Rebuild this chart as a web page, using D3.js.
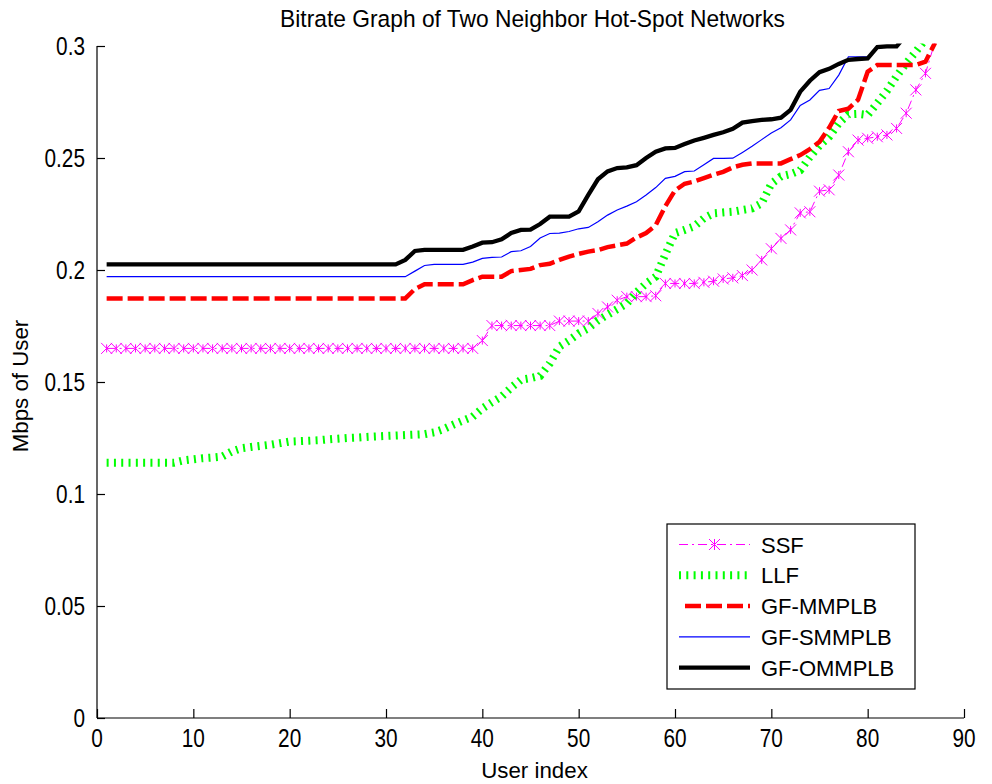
<!DOCTYPE html>
<html>
<head>
<meta charset="utf-8">
<script src="https://cdn.jsdelivr.net/npm/d3@7"></script>
<style>
  html, body { margin: 0; padding: 0; background: #fff; }
  svg { display: block; }
</style>
</head>
<body>
<svg id="chart" width="992" height="784"></svg>
<script>
// Bitrate per user (Mbps), users sorted by bitrate; user index starts at 1.
const ssf = [
  0.165, 0.165, 0.165, 0.165, 0.165, 0.165, 0.165, 0.165, 0.165, 0.165,
  0.165, 0.165, 0.165, 0.165, 0.165, 0.165, 0.165, 0.165, 0.165, 0.165,
  0.165, 0.165, 0.165, 0.165, 0.165, 0.165, 0.165, 0.165, 0.165, 0.165,
  0.165, 0.165, 0.165, 0.165, 0.165, 0.165, 0.165, 0.165, 0.165, 0.1685,
  0.1752, 0.1752, 0.1752, 0.1752, 0.1752, 0.1752, 0.1752, 0.1772, 0.1772, 0.1772,
  0.1772, 0.1806, 0.1835, 0.1865, 0.1881, 0.1881, 0.1881, 0.1885, 0.194, 0.194,
  0.194, 0.194, 0.1945, 0.195, 0.196, 0.1965, 0.1975, 0.2, 0.2045, 0.2095,
  0.2141, 0.2179, 0.2255, 0.226, 0.2352, 0.2358, 0.2424, 0.2528, 0.258, 0.2588,
  0.2595, 0.2603, 0.2632, 0.27, 0.2804, 0.2878, 0.302
];
const llf = [
  0.114, 0.114, 0.114, 0.114, 0.114, 0.114, 0.114, 0.114, 0.115, 0.1155,
  0.116, 0.1163, 0.1167, 0.119, 0.1204, 0.121, 0.1215, 0.122, 0.1227, 0.1234,
  0.1236, 0.1238, 0.124, 0.1244, 0.1247, 0.125, 0.1252, 0.1255, 0.1257, 0.1259,
  0.1261, 0.1263, 0.1265, 0.1267, 0.1275, 0.129, 0.131, 0.1328, 0.1345, 0.1382,
  0.141, 0.1435, 0.1475, 0.151, 0.1517, 0.1527, 0.1583, 0.1658, 0.1685, 0.1717,
  0.174, 0.1775, 0.18, 0.1825, 0.1851, 0.19, 0.194, 0.197, 0.207, 0.2165,
  0.2179, 0.2195, 0.2231, 0.2253, 0.2257, 0.226, 0.2268, 0.2275, 0.2298, 0.2385,
  0.2418, 0.2428, 0.2445, 0.2505, 0.2555, 0.2595, 0.2655, 0.2695, 0.2697, 0.2692,
  0.2745, 0.28, 0.2865, 0.2923, 0.2975, 0.303
];
const gfMmplb = [
  0.1873, 0.1873, 0.1873, 0.1873, 0.1873, 0.1873, 0.1873, 0.1873, 0.1873, 0.1873,
  0.1873, 0.1873, 0.1873, 0.1873, 0.1873, 0.1873, 0.1873, 0.1873, 0.1873, 0.1873,
  0.1873, 0.1873, 0.1873, 0.1873, 0.1873, 0.1873, 0.1873, 0.1873, 0.1873, 0.1873,
  0.1873, 0.1873, 0.1915, 0.1936, 0.1936, 0.1936, 0.1936, 0.1936, 0.1955, 0.197,
  0.197, 0.197, 0.1995, 0.2, 0.2005, 0.2022, 0.2028, 0.2045, 0.206, 0.2072,
  0.2082, 0.2089, 0.2102, 0.211, 0.2118, 0.2145, 0.2165, 0.22, 0.2285, 0.2355,
  0.2385, 0.2395, 0.241, 0.2425, 0.2438, 0.2458, 0.247, 0.2476, 0.2476, 0.2476,
  0.2476, 0.2495, 0.2513, 0.254, 0.2572, 0.2635, 0.271, 0.272, 0.276, 0.2885,
  0.2915, 0.2915, 0.2915, 0.2915, 0.2915, 0.293, 0.3015
];
const gfSmmplb = [
  0.197, 0.197, 0.197, 0.197, 0.197, 0.197, 0.197, 0.197, 0.197, 0.197,
  0.197, 0.197, 0.197, 0.197, 0.197, 0.197, 0.197, 0.197, 0.197, 0.197,
  0.197, 0.197, 0.197, 0.197, 0.197, 0.197, 0.197, 0.197, 0.197, 0.197,
  0.197, 0.197, 0.1995, 0.202, 0.2025, 0.2025, 0.2025, 0.2025, 0.2035, 0.2052,
  0.2056, 0.2058, 0.2082, 0.2086, 0.2105, 0.2143, 0.2163, 0.2165, 0.2172, 0.2184,
  0.219, 0.2215, 0.2245, 0.2268, 0.2285, 0.2305, 0.2335, 0.2368, 0.2409, 0.2418,
  0.2439, 0.2442, 0.247, 0.2498, 0.2498, 0.2499, 0.2525, 0.2552, 0.2582, 0.2612,
  0.2635, 0.267, 0.2735, 0.2759, 0.2802, 0.281, 0.287, 0.2952, 0.2952, 0.2952
];
const gfOmmplb = [
  0.2025, 0.2025, 0.2025, 0.2025, 0.2025, 0.2025, 0.2025, 0.2025, 0.2025, 0.2025,
  0.2025, 0.2025, 0.2025, 0.2025, 0.2025, 0.2025, 0.2025, 0.2025, 0.2025, 0.2025,
  0.2025, 0.2025, 0.2025, 0.2025, 0.2025, 0.2025, 0.2025, 0.2025, 0.2025, 0.2025,
  0.2025, 0.2045, 0.2085, 0.209, 0.209, 0.209, 0.209, 0.209, 0.2105, 0.2122,
  0.2124, 0.2137, 0.2165, 0.2179, 0.218, 0.2205, 0.2238, 0.2238, 0.2238, 0.2262,
  0.2335, 0.2405, 0.244, 0.2455, 0.2458, 0.2468, 0.25, 0.2528, 0.2543, 0.2545,
  0.2562, 0.2578, 0.259, 0.2603, 0.2615, 0.263, 0.2658, 0.2665, 0.267, 0.2673,
  0.268, 0.2715, 0.2796, 0.2845, 0.2883, 0.2898, 0.292, 0.2938, 0.2942, 0.2945,
  0.2995, 0.2998, 0.2998, 0.305
];

const seriesNames = ["SSF", "LLF", "GF-MMPLB", "GF-SMMPLB", "GF-OMMPLB"];
const xTicks = [0, 10, 20, 30, 40, 50, 60, 70, 80, 90];
const yTicks = [0, 0.05, 0.1, 0.15, 0.2, 0.25, 0.3];
const yTickLabels = ["0", "0.05", "0.1", "0.15", "0.2", "0.25", "0.3"];
const titleText = "Bitrate Graph of Two Neighbor Hot-Spot Networks";
const xLabelText = "User index";
const yLabelText = "Mbps of User";

// Layout
const W = 992, H = 784;
const plot = { left: 97, right: 964, top: 46, bottom: 718 };
const FONT = "'Liberation Sans', Arial, Helvetica, sans-serif";

const svg = d3.select("#chart");
const x = d3.scaleLinear().domain([0, 90]).range([plot.left, plot.right]);
const y = d3.scaleLinear().domain([0, 0.3]).range([plot.bottom, plot.top]);

svg.append("rect").attr("width", W).attr("height", H).attr("fill", "#fff");

// Clip region for data lines
svg.append("defs").append("clipPath").attr("id", "plotClip")
  .append("rect")
  .attr("x", plot.left).attr("y", plot.top - 2.5)
  .attr("width", plot.right - plot.left + 6).attr("height", plot.bottom - plot.top + 2.5);

// Text drawn with an optional horizontal squeeze (narrow axis lettering)
function axisText(parent, px, py, str, size, anchor, squeeze, rotate) {
  const g = parent.append("g")
    .attr("transform", `translate(${px},${py})` + (rotate ? ` rotate(${rotate})` : ""));
  g.append("text")
    .attr("transform", `scale(${squeeze},1)`)
    .attr("text-anchor", anchor)
    .attr("font-family", FONT)
    .attr("font-size", size)
    .attr("fill", "#000")
    .text(str);
  return g;
}

// Axes
const xAxis = d3.axisBottom(x).tickValues(xTicks).tickSize(-9).tickFormat("");
const yAxis = d3.axisLeft(y).tickValues(yTicks).tickSize(-8).tickFormat("");

const gx = svg.append("g").attr("transform", `translate(0,${plot.bottom})`).call(xAxis);
const gy = svg.append("g").attr("transform", `translate(${plot.left},0)`).call(yAxis);
[gx, gy].forEach(g => {
  g.select(".domain").attr("stroke", "#000").attr("stroke-width", 1.2);
  g.selectAll(".tick line").attr("stroke", "#000").attr("stroke-width", 1.2);
});
gy.select(".domain").attr("d", `M0,${plot.bottom}V${plot.top}`);
gx.select(".domain").attr("d", `M${plot.left},0H${plot.right}`);

// Tick labels
xTicks.forEach(t => axisText(svg, x(t), plot.bottom + 29, String(t), 26, "middle", 0.8));
yTicks.forEach((t, i) => axisText(svg, plot.left - 12, y(t) + 9, yTickLabels[i], 26, "end", 0.8));

// Title and axis labels
axisText(svg, (plot.left + plot.right) / 2 + 2, 27, titleText, 23.5, "middle", 0.97);
axisText(svg, (plot.left + plot.right) / 2 + 4, 778, xLabelText, 23, "middle", 0.97);
axisText(svg, 28, (plot.top + plot.bottom) / 2 + 4, yLabelText, 23, "middle", 0.97, -90);

// Series styles
const styles = [
  { data: ssf,      color: "#ff00ff", width: 1,   dash: "9,4,2,4", marker: true },
  { data: llf,      color: "#00ff00", width: 8,   dash: "2,5.3" },
  { data: gfMmplb,  color: "#ff0000", width: 4.5, dash: "16,5" },
  { data: gfSmmplb, color: "#0000ff", width: 1.2, dash: null },
  { data: gfOmmplb, color: "#000000", width: 4.3, dash: null }
];

const line = d3.line().x((d, i) => x(i + 1)).y(d => y(d));
const dataLayer = svg.append("g").attr("clip-path", "url(#plotClip)");

// Asterisk-style marker: diagonal cross plus a short vertical bar
const starPath = "M-5.5,-5.5L5.5,5.5M-5.5,5.5L5.5,-5.5M0,-4L0,4";

styles.forEach(s => {
  dataLayer.append("path")
    .datum(s.data)
    .attr("fill", "none")
    .attr("stroke", s.color)
    .attr("stroke-width", s.width)
    .attr("stroke-dasharray", s.dash)
    .attr("stroke-linecap", "butt")
    .attr("stroke-linejoin", "miter")
    .attr("d", line);
  if (s.marker) {
    dataLayer.selectAll(null)
      .data(s.data.map((v, i) => [i + 1, v]).filter(p => p[1] <= 0.3))
      .enter().append("path")
      .attr("transform", p => `translate(${x(p[0])},${y(p[1])})`)
      .attr("d", starPath)
      .attr("stroke", s.color)
      .attr("stroke-width", 1)
      .attr("fill", "none");
  }
});

// Legend
const legend = svg.append("g");
const lg = { x: 667, y: 524, w: 248, h: 165 };
legend.append("rect")
  .attr("x", lg.x).attr("y", lg.y).attr("width", lg.w).attr("height", lg.h)
  .attr("fill", "#fff").attr("stroke", "#000").attr("stroke-width", 1.2);

seriesNames.forEach((name, i) => {
  const s = styles[i];
  const cy = lg.y + 20.5 + i * 30.8;
  const x0 = i === 2 ? lg.x + 18 : lg.x + 12, x1 = lg.x + 83;
  legend.append("line")
    .attr("x1", x0).attr("x2", x1).attr("y1", cy).attr("y2", cy)
    .attr("stroke", s.color)
    .attr("stroke-width", s.width)
    .attr("stroke-dasharray", s.dash);
  if (s.marker) {
    legend.append("path")
      .attr("transform", `translate(${(x0 + x1) / 2},${cy})`)
      .attr("d", "M-5.5,-5.5L5.5,5.5M-5.5,5.5L5.5,-5.5M0,-5.5L0,5.5")
      .attr("stroke", s.color).attr("stroke-width", 1).attr("fill", "none");
  }
  legend.append("text")
    .attr("x", lg.x + 94).attr("y", cy + 8)
    .attr("font-family", FONT).attr("font-size", 22)
    .attr("fill", "#000")
    .text(name);
});
</script>
</body>
</html>
